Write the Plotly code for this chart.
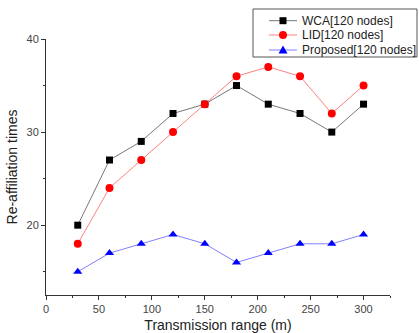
import plotly.graph_objects as go

x = [30, 60, 90, 120, 150, 180, 210, 240, 270, 300]
wca = [20, 27, 29, 32, 33, 35, 33, 32, 30, 33]
lid = [18, 24, 27, 30, 33, 36, 37, 36, 32, 35]
proposed = [15, 17, 18, 19, 18, 16, 17, 18, 18, 19]
names = ["WCA[120 nodes]", "LID[120 nodes]", "Proposed[120 nodes]"]

line_colors = ["#777777", "#ff8080", "#8080ff"]
marker_colors = ["black", "red", "blue"]
symbols = ["square", "circle", "triangle-up"]
sizes = [7, 8, 8]

fig = go.Figure()
for ys, nm, lc, mc, sym, sz in zip([wca, lid, proposed], names, line_colors, marker_colors, symbols, sizes):
    fig.add_trace(go.Scatter(x=x, y=ys, mode="lines+markers", name=nm, showlegend=False,
                             line=dict(color=lc, width=1),
                             marker=dict(symbol=sym, size=sz, color=mc)))

# layout geometry (pixels)
W, H = 419, 333
ML, MR, MT, MB = 46, 29, 39, 38
PW, PH = W - ML - MR, H - MT - MB


def px(v):
    return (v - ML) / PW


def py(v):
    return (H - MB - v) / PH


# manual compact legend (box, sample lines, symbols, labels)
shapes = [dict(type="rect", xref="paper", yref="paper", x0=px(253), x1=px(417),
               y0=py(57), y1=py(9), line=dict(color="#555555", width=1),
               fillcolor="white", layer="above")]
annotations = []
rows = [20.7, 35, 50]
for r, nm, lc, mc, sym in zip(rows, names, line_colors, marker_colors, symbols):
    shapes.append(dict(type="line", xref="paper", yref="paper", x0=px(269), x1=px(297),
                       y0=py(r), y1=py(r), line=dict(color=lc, width=1), layer="above"))
    common = dict(xref="paper", yref="paper", xsizemode="pixel", ysizemode="pixel",
                  xanchor=px(283), yanchor=py(r), fillcolor=mc, line=dict(color=mc, width=0),
                  layer="above")
    if sym == "square":
        shapes.append(dict(type="rect", x0=-3.5, x1=3.5, y0=-3.5, y1=3.5, **common))
    elif sym == "circle":
        shapes.append(dict(type="circle", x0=-4, x1=4, y0=-4, y1=4, **common))
    else:
        shapes.append(dict(type="path", path="M-4.5,-3.5 L4.5,-3.5 L0,4.5 Z", **common))
    annotations.append(dict(xref="paper", yref="paper", x=px(300), y=py(r), text=nm,
                            xanchor="left", yanchor="middle", showarrow=False,
                            font=dict(family="Liberation Sans, Arial", size=12, color="#222222")))

axis_common = dict(showline=True, linecolor="#333333", linewidth=1, ticks="outside",
                   ticklen=4, tickcolor="#333333", showgrid=False, zeroline=False,
                   tickfont=dict(family="Liberation Sans, Arial", size=11, color="#444444"),
                   minor=dict(ticks="outside", ticklen=2, tickcolor="#333333"))

fig.update_layout(
    width=W, height=H,
    margin=dict(l=ML, r=MR, t=MT, b=MB, autoexpand=False),
    paper_bgcolor="white", plot_bgcolor="white",
    font=dict(family="Liberation Sans, Arial", size=12, color="#222222"),
    xaxis=dict(range=[0, 325], tickvals=[0, 50, 100, 150, 200, 250, 300],
               title=dict(text="Transmission range (m)", standoff=6), **axis_common),
    yaxis=dict(range=[12.5, 40], tickvals=[20, 30, 40],
               title=dict(text="Re-affiliation times", standoff=5), **axis_common),
    shapes=shapes,
    annotations=annotations,
    showlegend=False,
)
fig.update_xaxes(minor=dict(tickvals=[25, 75, 125, 175, 225, 275, 325]))
fig.update_yaxes(minor=dict(tickvals=[15, 25, 35]))

fig.write_html("out.html")
